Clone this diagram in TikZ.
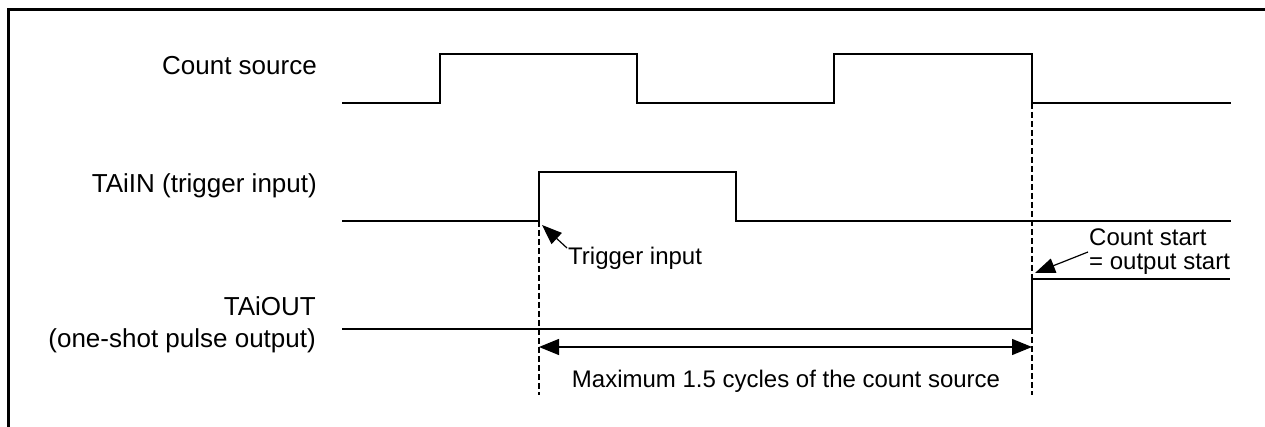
\documentclass[tikz,border=0pt]{standalone}
\usepackage{fontspec}
\setmainfont{Liberation Sans}
\usetikzlibrary{arrows.meta}
\begin{document}
\begin{tikzpicture}[x=1pt,y=-1pt,
  sig/.style={line width=2pt, line join=miter},
  guide/.style={line width=1.3pt, dash pattern=on 6pt off 3pt},
  pointer/.style={line width=1.2pt, -{Triangle[length=20pt,width=15pt]}},
  span/.style={line width=1.3pt, {Triangle[length=20pt,width=16pt]}-{Triangle[length=20pt,width=16pt]}},
  lbl/.style={font=\fontsize{26}{31}\selectfont, inner sep=0pt, anchor=base east},
  note/.style={font=\fontsize{24}{29}\selectfont, inner sep=0pt, anchor=base west}]
\useasboundingbox (0,0) rectangle (1265,427);
% frame
\draw[line width=3pt] (1270,10) -- (8,10) -- (8,432);
% labels
\node[lbl] (lcs) at (317,75) {Count source};
\node[lbl] (lin) at (317,193) {TAiIN (trigger input)};
\node[lbl] (lout1) at (316,316) {TAiOUT};
\node[lbl] (lout2) at (316,347) {(one-shot pulse output)};
% key coordinates
\coordinate (trig) at (539,221);
\coordinate (csfall) at (1032,103);
\coordinate (outstep) at (1032,279);
\coordinate (gl) at (539,395);
\coordinate (gr) at (1032,395);
\coordinate (sl) at (539,347);
\coordinate (sr) at (1032,347);
% waveforms
\draw[sig] (342,103) -- (440,103) -- (440,54) -- (637,54) -- (637,103) -- (834,103) -- (834,54) -- (1032,54) -- (csfall) -- (1231,103);
\draw[sig] (342,221) -- (trig) -- (539,172) -- (736,172) -- (736,221) -- (1231,221);
\draw[sig] (342,329) -- (1032,329) -- (outstep) -- (1230,279);
% guides
\draw[guide] (trig) -- (gl);
\draw[guide] (csfall) -- (gr);
% span arrow
\draw[span] (sl) -- (sr);
\node[font=\fontsize{24}{29}\selectfont, inner sep=0pt, anchor=base] (nmax) at (786,387) {Maximum 1.5 cycles of the count source};
% annotations
\node[note] (ntrig) at (568,265) {Trigger input};
\node[note] (ncs1) at (1089,246) {Count start};
\node[note] (ncs2) at (1089,270) {= output start};
\coordinate (ttail) at (567,248);
\coordinate (ttip) at (542,225);
\coordinate (ctail) at (1088,252);
\coordinate (ctip) at (1035,273);
\draw[pointer] (ttail) -- (ttip);
\draw[pointer] (ctail) -- (ctip);
\end{tikzpicture}
\end{document}
